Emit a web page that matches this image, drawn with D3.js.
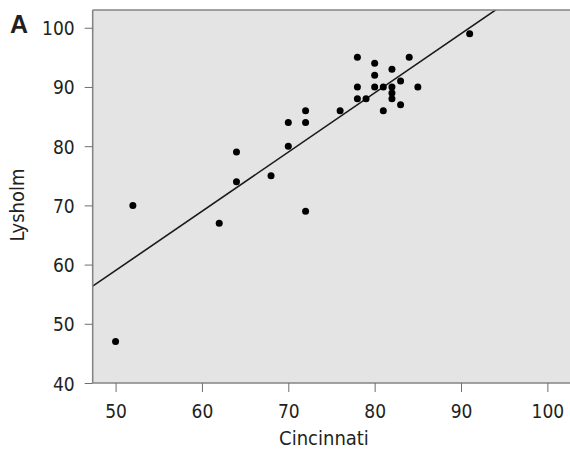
<!DOCTYPE html>
<html>
<head>
<meta charset="utf-8">
<script src="https://cdn.jsdelivr.net/npm/d3@7"></script>
<style>
  html, body { margin: 0; padding: 0; background: #ffffff; }
  svg { display: block; }
  .lbl { font-family: "DejaVu Sans Condensed", "DejaVu Sans", sans-serif; font-stretch: condensed; fill: #231f20; }
</style>
</head>
<body>
<svg id="chart" width="570" height="457"></svg>
<script>
// Data (Cincinnati vs Lysholm scores)
const cincinnati = [64, 70, 70, 72, 72, 76, 78, 78, 78, 79, 80, 80, 80, 81, 81, 82, 82, 82, 82, 83, 83, 84, 85, 91, 52, 50, 62, 64, 68, 72];
const lysholm    = [79, 84, 80, 86, 84, 86, 95, 90, 88, 88, 94, 92, 90, 90, 86, 93, 90, 89, 88, 91, 87, 95, 90, 99, 70, 47, 67, 74, 75, 69];
const xTicks = [50, 60, 70, 80, 90, 100];
const yTicks = [40, 50, 60, 70, 80, 90, 100];
const fitIntercept = 9.0;
const fitSlope = 1.0;
const panelLabel = "A";
const xTitle = "Cincinnati";
const yTitle = "Lysholm";

(function () {
const svg = d3.select("#chart");
const pL = 92.7, pR = 572, pT = 10, pB = 383;

const x = d3.scaleLinear().domain([47.35, 102.85]).range([pL, pR]);
const y = d3.scaleLinear().domain([40, 103]).range([pB, pT]);

// plot background
svg.append("rect")
  .attr("x", pL).attr("y", pT)
  .attr("width", pR - pL).attr("height", pB - pT)
  .attr("fill", "#e4e4e4");

// clip for marks
svg.append("clipPath").attr("id", "clip")
  .append("rect").attr("x", pL).attr("y", pT).attr("width", pR - pL).attr("height", pB - pT);

// regression line
const fitX = x.domain();
svg.append("line")
  .attr("clip-path", "url(#clip)")
  .attr("x1", x(fitX[0])).attr("y1", y(fitIntercept + fitSlope * fitX[0]))
  .attr("x2", x(fitX[1])).attr("y2", y(fitIntercept + fitSlope * fitX[1]))
  .attr("stroke", "#1a1a1a").attr("stroke-width", 1.6);

// points
svg.append("g").selectAll("circle")
  .data(cincinnati.map((c, i) => [c, lysholm[i]]))
  .join("circle")
  .attr("cx", d => x(d[0])).attr("cy", d => y(d[1]))
  .attr("r", 3.5).attr("fill", "#000");

// frame top line
const frameColor = "#858585";
svg.append("line").attr("x1", pL).attr("x2", pR).attr("y1", pT).attr("y2", pT)
  .attr("stroke", frameColor).attr("stroke-width", 1.6);

// axes
const xAxis = svg.append("g").attr("transform", `translate(0,${pB})`)
  .call(d3.axisBottom(x).tickValues(xTicks).tickSize(9).tickPadding(8).tickFormat(d3.format("d")));
const yAxis = svg.append("g").attr("transform", `translate(${pL},0)`)
  .call(d3.axisLeft(y).tickValues(yTicks).tickSize(8).tickPadding(10).tickFormat(d3.format("d")));

[xAxis, yAxis].forEach(g => {
  g.select(".domain").attr("stroke", frameColor).attr("stroke-width", 1.6);
  g.selectAll(".tick line").attr("stroke", "#6e6e6e").attr("stroke-width", 1);
  g.selectAll(".tick text").attr("class", "lbl").attr("font-size", 19).attr("fill", "#231f20");
});
xAxis.select(".domain").attr("d", `M${pL},0H${pR}`);
yAxis.select(".domain").attr("d", `M0,${pT}V${pB}`);
yAxis.selectAll(".tick text").attr("dy", "0.37em");
xAxis.selectAll(".tick text").attr("dy", "0.95em");

// titles
svg.append("text").attr("class", "lbl")
  .attr("x", 324).attr("y", 445)
  .attr("text-anchor", "middle").attr("font-size", 20)
  .text(xTitle);
svg.append("text").attr("class", "lbl")
  .attr("transform", "translate(24,205) rotate(-90)")
  .attr("text-anchor", "middle").attr("font-size", 20)
  .text(yTitle);

// panel label
svg.append("text")
  .attr("x", 10).attr("y", 33)
  .attr("font-family", "Liberation Sans, Arial, sans-serif")
  .attr("font-weight", "bold").attr("font-size", 25)
  .attr("fill", "#231f20")
  .text(panelLabel);
})();
</script>
</body>
</html>
